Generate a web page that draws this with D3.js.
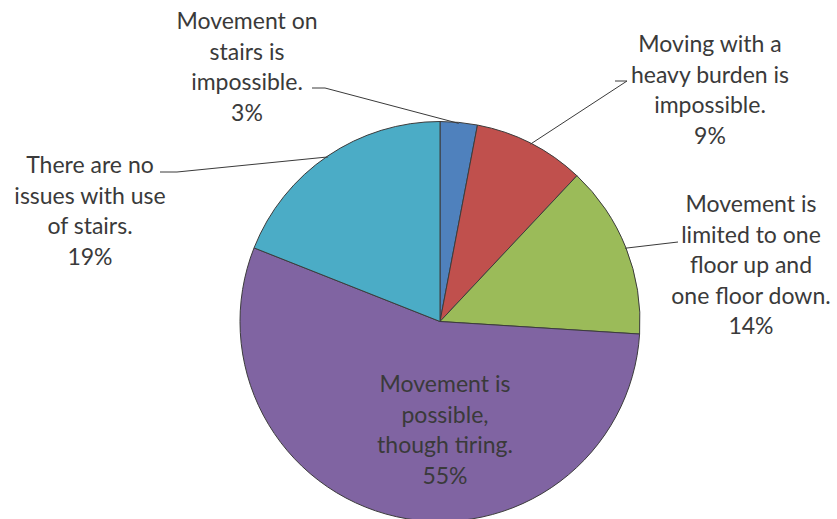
<!DOCTYPE html>
<html>
<head>
<meta charset="utf-8">
<script src="https://cdn.jsdelivr.net/npm/d3@7"></script>
<style>
  html, body { margin: 0; padding: 0; background: #fff; }
  svg { display: block; }
  text { font-family: Lato, "Open Sans", sans-serif; fill: #3a3a3a; }
</style>
</head>
<body>
<svg id="chart" width="837" height="519"></svg>
<script>
// Ability to use stairs — share of respondents
const categories = [
  "Movement on stairs is impossible.",
  "Moving with a heavy burden is impossible.",
  "Movement is limited to one floor up and one floor down.",
  "Movement is possible, though tiring.",
  "There are no issues with use of stairs."
];
const values = [3, 9, 14, 55, 19];
const labelLines = [
  ["Movement on", "stairs is", "impossible."],
  ["Moving with a", "heavy burden is", "impossible."],
  ["Movement is", "limited to one", "floor up and", "one floor down."],
  ["Movement is", "possible,", "though tiring."],
  ["There are no", "issues with use", "of stairs."]
];
const colors = ["#4F81BD", "#C0504D", "#9BBB59", "#8064A2", "#4BACC6"];

// Layout: label block centre x, first baseline y, and leader elbow (null = label inside slice)
const labelLayout = [
  { x: 247, y: 29,  elbow: [325, 88],  end: [312, 88] },
  { x: 710, y: 52,  elbow: [627, 81],  end: [615, 81] },
  { x: 751, y: 212, elbow: [678, 242], end: [678, 242] },
  { x: 445, y: 392, elbow: null,       end: null },
  { x: 90,  y: 173, elbow: [177, 172], end: [160, 172] }
];

const cx = 440, cy = 321.5, radius = 200;
const fontSize = 23, lineH = 30.5;

const svg = d3.select("#chart");
const g = svg.append("g").attr("transform", `translate(${cx},${cy})`);

const pie = d3.pie().sort(null).value(d => d)(values);
const arc = d3.arc().innerRadius(0).outerRadius(radius);

g.selectAll("path.slice")
  .data(pie)
  .join("path")
  .attr("class", "slice")
  .attr("d", arc)
  .attr("fill", (d, i) => colors[i])
  .attr("stroke", "#3c3c3c")
  .attr("stroke-width", 1);

// Leader lines from the slice edge to the label
const edge = d3.arc().innerRadius(radius - 1).outerRadius(radius - 1);
pie.forEach((d, i) => {
  const L = labelLayout[i];
  if (!L.elbow) return;
  const a = (d.startAngle + d.endAngle) / 2;
  const p0 = [cx + (radius - 1) * Math.sin(a), cy - (radius - 1) * Math.cos(a)];
  svg.append("polyline")
    .attr("points", [p0, L.elbow, L.end].map(p => p.join(",")).join(" "))
    .attr("fill", "none")
    .attr("stroke", "#3a3a3a")
    .attr("stroke-width", 1);
});

// Category labels with percentage
pie.forEach((d, i) => {
  const L = labelLayout[i];
  const lines = labelLines[i].concat([d3.format(".0f")(d.data) + "%"]);
  const t = svg.append("text")
    .attr("text-anchor", "middle")
    .attr("font-size", fontSize)
    .attr("x", L.x)
    .attr("y", L.y);
  lines.forEach((s, k) => {
    t.append("tspan").attr("x", L.x).attr("y", L.y + k * lineH).text(s);
  });
});
</script>
</body>
</html>
